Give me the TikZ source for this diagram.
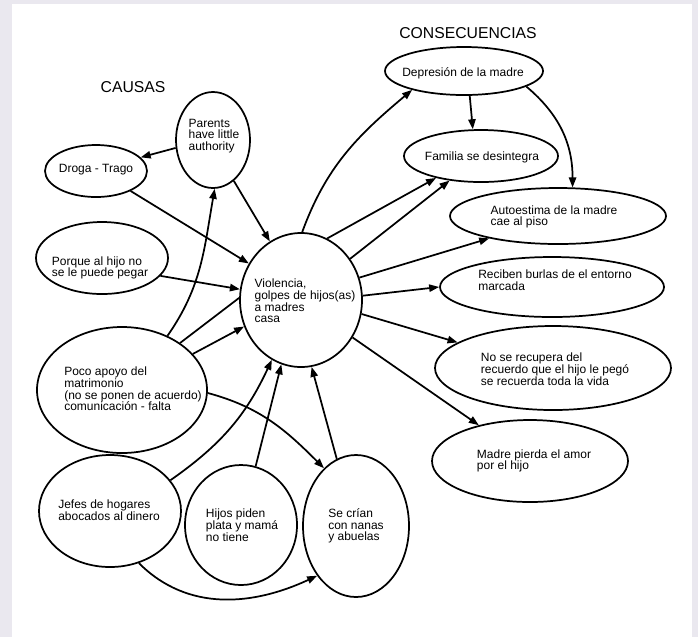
\documentclass[tikz,border=0pt]{standalone}
\usepackage{fontspec}
\setmainfont{Liberation Sans}
\usetikzlibrary{shapes.geometric,arrows.meta}

\definecolor{fondogris}{RGB}{234,232,239}

\tikzset{every picture/.style={line width=1.3pt}}
\tikzset{
  elip/.style={draw, ellipse, line width=1.3pt, inner sep=0pt},
  txtnodo/.style={align=left, inner sep=0pt, font=\fontsize{9}{8.8}\selectfont},
  titulo/.style={inner sep=0pt, font=\fontsize{11.8}{14}\selectfont},
  flecha/.style={line width=1.3pt, -{Triangle[length=7.5pt,width=5.5pt]}},
  linea/.style={line width=1.3pt}
}

\begin{document}
\begin{tikzpicture}[x=0.75pt,y=0.75pt,yscale=-1,xscale=1]
%set diagram: 698 x 637
\useasboundingbox [fill=fondogris] (0,0) rectangle (698,637);
\fill [white] (12,4) rectangle (692,637);

%Shape: Ellipse [causas]
\node [elip, minimum width=91.5pt, minimum height=100.5pt] (viol) at (301,300) {};
\node [elip, minimum width=55.5pt, minimum height=72pt] (parents) at (213,140) {};
\node [elip, minimum width=76.5pt, minimum height=39pt] (droga) at (96,171) {};
\node [elip, minimum width=99pt, minimum height=54pt] (porque) at (102,258) {};
\node [elip, minimum width=127.5pt, minimum height=94.5pt] (poco) at (122,390) {};
\node [elip, minimum width=106.5pt, minimum height=84pt] (jefes) at (110,511) {};
\node [elip, minimum width=84pt, minimum height=90pt] (hijos) at (241,525) {};
\node [elip, minimum width=79.5pt, minimum height=106.5pt] (crian) at (356,526) {};
%Shape: Ellipse [consecuencias]
\node [elip, minimum width=118.5pt, minimum height=36pt] (depre) at (464,71) {};
\node [elip, minimum width=115.5pt, minimum height=39pt] (familia) at (481,156) {};
\node [elip, minimum width=162pt, minimum height=42pt] (autoest) at (558,216) {};
\node [elip, minimum width=168pt, minimum height=45pt] (reciben) at (552,287) {};
\node [elip, minimum width=177pt, minimum height=63pt] (recupera) at (553,368) {};
\node [elip, minimum width=147pt, minimum height=61.5pt] (pierda) at (530,461) {};

%Straight Lines [causas]
\draw [flecha] (parents.192) -- (droga.17);
\draw [flecha] (parents.-63) -- (viol.118);
\draw [flecha] (droga.-30) -- (viol.145);
\draw [flecha] (porque.-17) -- (viol.170);
\draw [linea] (poco.39) -- (viol.178);
\draw [flecha] (poco.27) -- (viol.205);
\draw [flecha] (hijos.76) -- (viol.253);
\draw [flecha] (crian.106) -- (viol.-81);
%Curve Lines [causas]
\draw [flecha] (poco.50) to [out=-55,in=100] (parents.272);
\draw [flecha] (poco.-2) to [out=15,in=-135] (crian.119);
\draw [flecha] (jefes.27) to [out=-35,in=115] (viol.244);
\draw [flecha] (jefes.-61) to [out=45,in=155] (crian.232);

%Straight Lines [consecuencias]
\draw [flecha] (depre.-77) -- (familia.107);
\draw [flecha] (viol.67) -- (familia.206);
\draw [flecha] (viol.40) -- (familia.218);
\draw [flecha] (viol.21) -- (autoest.198);
\draw [flecha] (viol.4) -- (reciben.180);
\draw [flecha] (viol.-13) -- (recupera.165);
\draw [flecha] (viol.-36) -- (pierda.145);
%Curve Lines [consecuencias]
\draw [flecha] (viol.89) to [out=-70,in=140] (depre.200);
\draw [flecha] (depre.-14) to [out=40,in=-90] (autoest.63);

% Text Node
\node [titulo] (tcausas) at (133,87) {CAUSAS};
% Text Node
\node [titulo] (tconsec) at (468,33) {CONSECUENCIAS};
% Text Node
\node [txtnodo] (tviol) at (305,301) {Violencia,\\golpes de hijos(as)\\a madres\\casa};
% Text Node
\node [txtnodo] (tparents) at (214,136) {Parents\\have little\\authority};
% Text Node
\node [txtnodo] (tdroga) at (96,170) {Droga - Trago};
% Text Node
\node [txtnodo] (tporque) at (100,268) {Porque al hijo no\\se le puede pegar};
% Text Node
\node [txtnodo] (tpoco) at (133,389) {Poco apoyo del\\matrimonio\\(no se ponen de acuerdo)\\comunicación - falta};
% Text Node
\node [txtnodo] (tjefes) at (109,510) {Jefes de hogares\\abocados al dinero};
% Text Node
\node [txtnodo] (thijos) at (242,525) {Hijos piden\\plata y mamá\\no tiene};
% Text Node
\node [txtnodo] (tcrian) at (356,526) {Se crían\\con nanas\\y abuelas};
% Text Node
\node [txtnodo] (tdepre) at (463,73) {Depresión de la madre};
% Text Node
\node [txtnodo] (tfamilia) at (482,157) {Familia se desintegra};
% Text Node
\node [txtnodo] (tautoest) at (554,217) {Autoestima de la madre\\cae al piso};
% Text Node
\node [txtnodo] (treciben) at (555,280) {Reciben burlas de el entorno\\marcada};
% Text Node
\node [txtnodo] (trecupera) at (555,369) {No se recupera del\\recuerdo que el hijo le pegó\\se recuerda toda la vida};
% Text Node
\node [txtnodo] (tpierda) at (534,461) {Madre pierda el amor\\por el hijo};

\end{tikzpicture}
\end{document}
